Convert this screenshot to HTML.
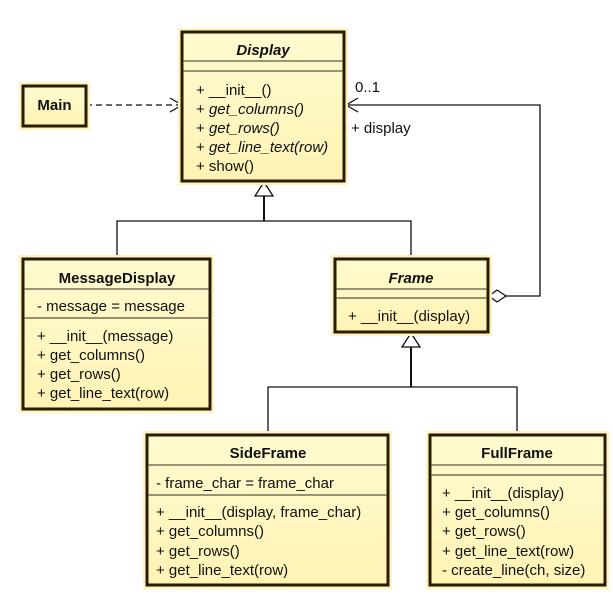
<!DOCTYPE html>
<html><head><meta charset="utf-8"><style>
html,body{margin:0;padding:0;background:#fff;}
svg{display:block;}
text{font-family:"Liberation Sans",sans-serif;font-size:15px;fill:#111;}
.b{font-weight:bold;}
.i{font-style:italic;}
.box{fill:url(#g);stroke:#2a1c00;stroke-width:3;}
.halo{fill:none;stroke:#fff3c0;stroke-width:8;}
.sep{stroke:#5a5640;stroke-width:1.3;}
.ln{stroke:#111;stroke-width:1.3;fill:none;}
</style></head><body>
<svg width="613" height="596" viewBox="0 0 613 596">
<defs><linearGradient id="g" x1="0" y1="0" x2="0" y2="1"><stop offset="0" stop-color="#fffbd0"/><stop offset="1" stop-color="#fff3b4"/></linearGradient></defs>

<line x1="86" y1="105" x2="181" y2="105" class="ln" stroke-dasharray="6,4"/>
<polyline points="170,98 182,105 170,112" class="ln"/>
<polyline points="506,296 540,296 540,105 346,105" class="ln"/>
<polyline points="358,98 346,105 358,112" class="ln"/>
<polygon points="489,296 497,290 506,296 497,302" fill="#fff" stroke="#111" stroke-width="1.3"/>
<line x1="264" y1="196" x2="264" y2="221" stroke="#111" stroke-width="2"/>
<polyline points="117,259 117,221 411,221 411,259" class="ln"/>
<polygon points="264,182 255,196 273,196" fill="#fff" stroke="#111" stroke-width="1.3"/>
<line x1="411" y1="347" x2="411" y2="387" stroke="#111" stroke-width="2"/>
<polyline points="268,435 268,387 517,387 517,435" class="ln"/>
<polygon points="411,333 402,347 420,347" fill="#fff" stroke="#111" stroke-width="1.3"/>
<text x="355" y="92">0..1</text>
<text x="351" y="133">+ display</text>

<rect x="23" y="86" width="63" height="40" class="halo"/>
<rect x="23" y="86" width="63" height="40" class="box"/>
<text x="54.5" y="110" class="b" text-anchor="middle">Main</text>

<rect x="182" y="32" width="162" height="149" class="halo"/>
<rect x="182" y="32" width="162" height="149" class="box"/>
<line x1="183" y1="61" x2="343" y2="61" class="sep"/>
<line x1="183" y1="71" x2="343" y2="71" class="sep"/>
<text x="263" y="55" class="b i" text-anchor="middle">Display</text>
<text x="196" y="95">+ __init__()</text>
<text x="196" y="114">+ <tspan class="i">get_columns()</tspan></text>
<text x="196" y="133">+ <tspan class="i">get_rows()</tspan></text>
<text x="196" y="152">+ <tspan class="i">get_line_text(row)</tspan></text>
<text x="196" y="171">+ show()</text>

<rect x="23" y="259" width="187" height="150" class="halo"/>
<rect x="23" y="259" width="187" height="150" class="box"/>
<line x1="24" y1="289" x2="209" y2="289" class="sep"/>
<line x1="24" y1="318" x2="209" y2="318" class="sep"/>
<text x="117" y="283" class="b" text-anchor="middle">MessageDisplay</text>
<text x="37" y="311">- message = message</text>
<text x="37" y="341">+ __init__(message)</text>
<text x="37" y="360">+ get_columns()</text>
<text x="37" y="379">+ get_rows()</text>
<text x="37" y="398">+ get_line_text(row)</text>

<rect x="335" y="259" width="153" height="73" class="halo"/>
<rect x="335" y="259" width="153" height="73" class="box"/>
<line x1="336" y1="289" x2="487" y2="289" class="sep"/>
<line x1="336" y1="298" x2="487" y2="298" class="sep"/>
<text x="411" y="283" class="b i" text-anchor="middle">Frame</text>
<text x="348" y="321">+ __init__(display)</text>

<rect x="147" y="435" width="241" height="150" class="halo"/>
<rect x="147" y="435" width="241" height="150" class="box"/>
<line x1="148" y1="465" x2="387" y2="465" class="sep"/>
<line x1="148" y1="495" x2="387" y2="495" class="sep"/>
<text x="268" y="458" class="b" text-anchor="middle">SideFrame</text>
<text x="156" y="488">- frame_char = frame_char</text>
<text x="156" y="517">+ __init__(display, frame_char)</text>
<text x="156" y="536">+ get_columns()</text>
<text x="156" y="556">+ get_rows()</text>
<text x="156" y="575">+ get_line_text(row)</text>

<rect x="430" y="435" width="175" height="150" class="halo"/>
<rect x="430" y="435" width="175" height="150" class="box"/>
<line x1="431" y1="465" x2="604" y2="465" class="sep"/>
<line x1="431" y1="475" x2="604" y2="475" class="sep"/>
<text x="517" y="458" class="b" text-anchor="middle">FullFrame</text>
<text x="442" y="498">+ __init__(display)</text>
<text x="442" y="517">+ get_columns()</text>
<text x="442" y="536">+ get_rows()</text>
<text x="442" y="556">+ get_line_text(row)</text>
<text x="442" y="575">- create_line(ch, size)</text>
</svg>
</body></html>
